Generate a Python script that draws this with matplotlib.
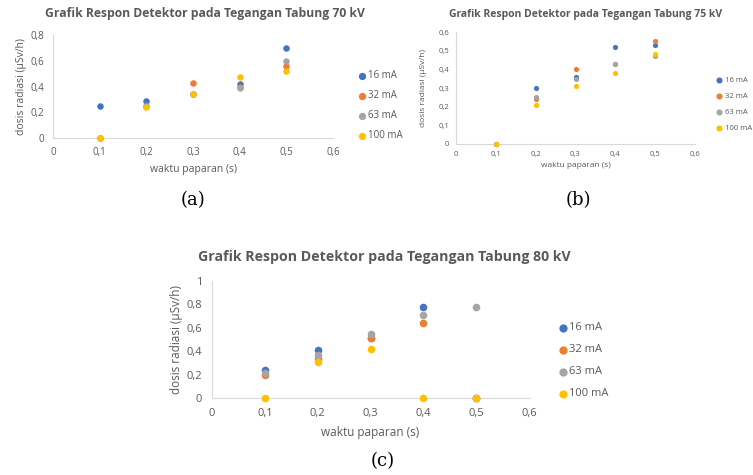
import matplotlib
matplotlib.use('Agg')
import matplotlib.pyplot as plt
from matplotlib.ticker import FuncFormatter

# exposure times (s)
waktu = [0.1, 0.2, 0.3, 0.4, 0.5]
arus = ['16 mA', '32 mA', '63 mA', '100 mA']

# 70 kV
dosis_70_16 = [0.25, 0.29, 0.34, 0.42, 0.70]
dosis_70_32 = [0.0, 0.25, 0.43, 0.40, 0.56]
dosis_70_63 = [0.0, 0.25, 0.34, 0.39, 0.60]
dosis_70_100 = [0.0, 0.24, 0.34, 0.47, 0.52]

# 75 kV
dosis_75_16 = [0.0, 0.30, 0.36, 0.52, 0.53]
dosis_75_32 = [0.0, 0.24, 0.40, 0.43, 0.55]
dosis_75_63 = [0.0, 0.25, 0.35, 0.43, 0.47]
dosis_75_100 = [0.0, 0.21, 0.31, 0.38, 0.48]

# 80 kV
dosis_80_16 = [0.24, 0.41, 0.51, 0.78, 0.0]
dosis_80_32 = [0.20, 0.33, 0.51, 0.64, 0.0]
dosis_80_63 = [0.21, 0.37, 0.55, 0.71, 0.78]
dosis_80_100 = [0.0, 0.31, 0.42, 0.0, 0.0]

colors = ['#4472C4', '#ED7D31', '#A5A5A5', '#FFC000']
grey = '#595959'
W, H = 753, 475

plt.rcParams['font.family'] = ['Open Sans', 'DejaVu Sans']

fig = plt.figure(figsize=(W / 100, H / 100), dpi=100)


def box(l, r, t, b):
    return [l / W, 1 - b / H, (r - l) / W, (b - t) / H]


def comma(v, pos):
    return ('%g' % round(v, 2)).replace('.', ',')


def panel(rect, series, ymax, ystep, title, tx, ty, fs, tfs, ms, leg_xy, leg_gap, letter, lxy, ylab_x):
    ax = fig.add_axes(box(*rect))
    for vals, c, lab in zip(series, colors, arus):
        ax.scatter(waktu, vals, s=ms, color=c, label=lab, zorder=3, linewidths=0, clip_on=False)
    ax.set_xlim(0, 0.6)
    ax.set_ylim(0, ymax)
    ax.set_xticks([0, 0.1, 0.2, 0.3, 0.4, 0.5, 0.6])
    n = int(round(ymax / ystep))
    ax.set_yticks([i * ystep for i in range(n + 1)])
    ax.xaxis.set_major_formatter(FuncFormatter(comma))
    ax.yaxis.set_major_formatter(FuncFormatter(comma))
    ax.tick_params(length=0, labelsize=fs, colors=grey, pad=fs * 0.9)
    for s in ['top', 'right']:
        ax.spines[s].set_visible(False)
    for s in ['left', 'bottom']:
        ax.spines[s].set_color('#D9D9D9')
        ax.spines[s].set_linewidth(0.8)
    ax.set_xlabel('waktu paparan (s)', fontsize=fs + 0.5, color=grey, labelpad=fs * 0.6)
    ax.set_ylabel('dosis radiasi (µSv/h)', fontsize=fs + 0.5, color=grey)
    ax.yaxis.set_label_coords((ylab_x - rect[0]) / (rect[1] - rect[0]), 0.5)
    fig.text(tx / W, 1 - ty / H, title, ha='center', va='center', fontsize=tfs,
             fontweight='bold', color=grey)
    # legend drawn by hand so it sits where the original one is
    for i, (c, lab) in enumerate(zip(colors, arus)):
        lx, ly = leg_xy[0], leg_xy[1] + i * leg_gap
        fig.lines.append(plt.Line2D([lx / W], [1 - ly / H], marker='o', markersize=ms ** 0.5 * 0.9,
                                    color=c, linestyle='', transform=fig.transFigure))
        fig.text((lx + 6) / W, 1 - ly / H, lab, ha='left', va='center', fontsize=fs, color=grey)
    fig.text(lxy[0] / W, 1 - lxy[1] / H, letter, ha='center', va='center', fontsize=13,
             family='DejaVu Serif')
    return ax


panel((53, 333, 35, 138), [dosis_70_16, dosis_70_32, dosis_70_63, dosis_70_100], 0.8, 0.2,
      'Grafik Respon Detektor pada Tegangan Tabung 70 kV', 205, 13, 7, 8.7, 22,
      (362, 76), 20, '(a)', (193, 200), 27)

panel((456, 695, 32, 144), [dosis_75_16, dosis_75_32, dosis_75_63, dosis_75_100], 0.6, 0.1,
      'Grafik Respon Detektor pada Tegangan Tabung 75 kV', 586, 14, 5.5, 7.5, 14,
      (719, 80), 16, '(b)', (578, 200), 427)

panel((212, 529, 281, 398), [dosis_80_16, dosis_80_32, dosis_80_63, dosis_80_100], 1.0, 0.2,
      'Grafik Respon Detektor pada Tegangan Tabung 80 kV', 384, 257, 8, 10.2, 30,
      (563, 328), 22, '(c)', (383, 461), 183)

fig.savefig('out.png', dpi=100)
